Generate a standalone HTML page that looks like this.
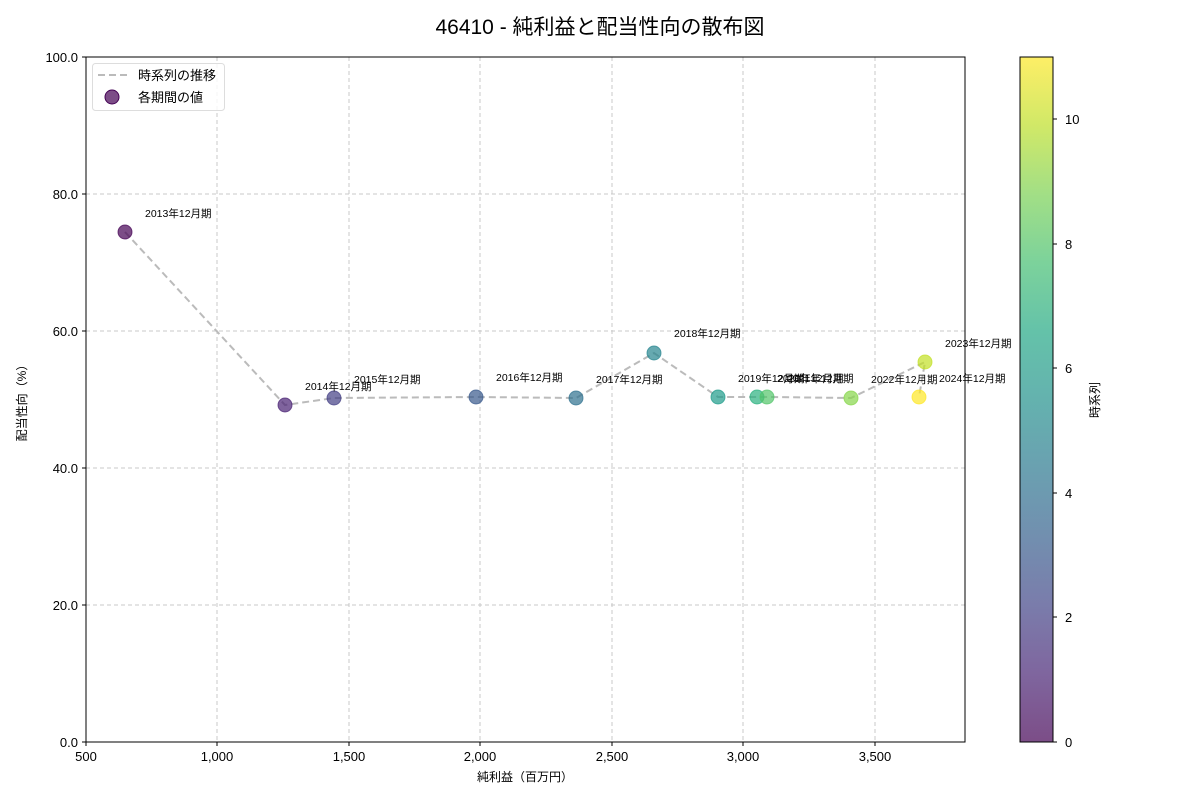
<!DOCTYPE html>
<html><head><meta charset="utf-8"><style>body{margin:0;background:#fff}svg{display:block;font-family:"Liberation Sans","Noto Sans CJK JP",sans-serif}</style></head><body>
<svg width="1200" height="800" viewBox="0 0 1200 800">
<defs><linearGradient id="vir" x1="0" y1="1" x2="0" y2="0">
<stop offset="0" stop-color="#440154"/><stop offset="0.1" stop-color="#482475"/><stop offset="0.2" stop-color="#414487"/><stop offset="0.3" stop-color="#355f8d"/><stop offset="0.4" stop-color="#2a788e"/><stop offset="0.5" stop-color="#21918c"/><stop offset="0.6" stop-color="#22a884"/><stop offset="0.7" stop-color="#44bf70"/><stop offset="0.8" stop-color="#7ad151"/><stop offset="0.9" stop-color="#bddf26"/><stop offset="1" stop-color="#fde725"/></linearGradient></defs>
<text x="600" y="34" text-anchor="middle" font-size="21">46410 - 純利益と配当性向の散布図</text>
<g stroke="#c8c8c8" stroke-dasharray="4,3" stroke-width="1">
<line x1="217" y1="57" x2="217" y2="742"/><line x1="349" y1="57" x2="349" y2="742"/><line x1="480" y1="57" x2="480" y2="742"/><line x1="612" y1="57" x2="612" y2="742"/><line x1="743" y1="57" x2="743" y2="742"/><line x1="875" y1="57" x2="875" y2="742"/>
<line x1="86" y1="605" x2="965" y2="605"/><line x1="86" y1="468" x2="965" y2="468"/><line x1="86" y1="331" x2="965" y2="331"/><line x1="86" y1="194" x2="965" y2="194"/>
</g>
<polyline fill="none" stroke="#bbb" stroke-width="2" stroke-dasharray="7,4" points="125,232 285,405 334,398 476,397 576,398 654,353 718,397 757,397 767,397 851,398 925,362 919,397"/>
<g fill-opacity="0.7" stroke-opacity="0.7" stroke-width="1">
<circle cx="125" cy="232" r="7" fill="#440154" stroke="#440154"/>
<circle cx="285" cy="405" r="7" fill="#482173" stroke="#482173"/>
<circle cx="334" cy="398" r="7" fill="#433e85" stroke="#433e85"/>
<circle cx="476" cy="397" r="7" fill="#38588c" stroke="#38588c"/>
<circle cx="576" cy="398" r="7" fill="#2d708e" stroke="#2d708e"/>
<circle cx="654" cy="353" r="7" fill="#25858e" stroke="#25858e"/>
<circle cx="718" cy="397" r="7" fill="#1e9b8a" stroke="#1e9b8a"/>
<circle cx="757" cy="397" r="7" fill="#2ab07f" stroke="#2ab07f"/>
<circle cx="767" cy="397" r="7" fill="#52c569" stroke="#52c569"/>
<circle cx="851" cy="398" r="7" fill="#86d549" stroke="#86d549"/>
<circle cx="925" cy="362" r="7" fill="#c2df23" stroke="#c2df23"/>
<circle cx="919" cy="397" r="7" fill="#fde725" stroke="#fde725"/>
</g>
<g font-size="10.5">
<text x="145" y="217">2013年12月期</text><text x="305" y="390">2014年12月期</text><text x="354" y="383">2015年12月期</text><text x="496" y="381">2016年12月期</text><text x="596" y="383">2017年12月期</text><text x="674" y="337">2018年12月期</text><text x="738" y="382">2019年12月期</text><text x="777" y="382">2020年12月期</text><text x="787" y="382">2021年12月期</text><text x="871" y="383">2022年12月期</text><text x="945" y="347">2023年12月期</text><text x="939" y="382">2024年12月期</text>
</g>
<rect x="86" y="57" width="879" height="685" fill="none" stroke="#000" stroke-width="1"/>
<g font-size="13" fill="#000">
<g stroke="#000"><line x1="86" y1="742" x2="86" y2="746"/><line x1="217" y1="742" x2="217" y2="746"/><line x1="349" y1="742" x2="349" y2="746"/><line x1="480" y1="742" x2="480" y2="746"/><line x1="612" y1="742" x2="612" y2="746"/><line x1="743" y1="742" x2="743" y2="746"/><line x1="875" y1="742" x2="875" y2="746"/>
<line x1="82" y1="742" x2="86" y2="742"/><line x1="82" y1="605" x2="86" y2="605"/><line x1="82" y1="468" x2="86" y2="468"/><line x1="82" y1="331" x2="86" y2="331"/><line x1="82" y1="194" x2="86" y2="194"/><line x1="82" y1="57" x2="86" y2="57"/></g>
<g text-anchor="middle"><text x="86" y="761">500</text><text x="217" y="761">1,000</text><text x="349" y="761">1,500</text><text x="480" y="761">2,000</text><text x="612" y="761">2,500</text><text x="743" y="761">3,000</text><text x="875" y="761">3,500</text></g>
<g text-anchor="end"><text x="78" y="747">0.0</text><text x="78" y="610">20.0</text><text x="78" y="473">40.0</text><text x="78" y="336">60.0</text><text x="78" y="199">80.0</text><text x="78" y="62">100.0</text></g>
<text x="525" y="781" text-anchor="middle" font-size="12">純利益（百万円）</text>
<text transform="translate(26,400) rotate(-90)" text-anchor="middle" font-size="12">配当性向（%）</text>
</g>
<rect x="92.5" y="63.5" width="132" height="47" rx="3" fill="#fff" fill-opacity="0.8" stroke="#ddd"/>
<line x1="98" y1="75" x2="128" y2="75" stroke="#bbb" stroke-width="2" stroke-dasharray="7,4"/>
<text x="138" y="80" font-size="13">時系列の推移</text>
<circle cx="112" cy="97" r="7" fill="#440154" fill-opacity="0.7" stroke="#440154"/>
<text x="138" y="102" font-size="13">各期間の値</text>
<rect x="1020" y="57" width="33" height="685" fill="url(#vir)" opacity="0.7"/>
<rect x="1020" y="57" width="33" height="685" fill="none" stroke="#000"/>
<g font-size="13" stroke="#000">
<line x1="1053" y1="742" x2="1057" y2="742"/><line x1="1053" y1="617" x2="1057" y2="617"/><line x1="1053" y1="493" x2="1057" y2="493"/><line x1="1053" y1="368" x2="1057" y2="368"/><line x1="1053" y1="244" x2="1057" y2="244"/><line x1="1053" y1="119" x2="1057" y2="119"/></g>
<g font-size="13"><text x="1065" y="747">0</text><text x="1065" y="622">2</text><text x="1065" y="498">4</text><text x="1065" y="373">6</text><text x="1065" y="249">8</text><text x="1065" y="124">10</text></g>
<text transform="translate(1099,400) rotate(-90)" text-anchor="middle" font-size="12">時系列</text>
</svg>
</body></html>
